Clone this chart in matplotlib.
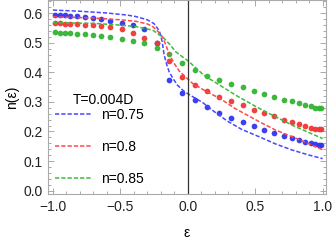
import numpy as np
import matplotlib.pyplot as plt
from matplotlib.ticker import MultipleLocator

plt.rcParams['font.family'] = ['Liberation Sans', 'DejaVu Sans']
plt.rcParams['font.size'] = 10

# dot positions (epsilon)
eps = [-0.987, -0.950, -0.913, -0.870, -0.821, -0.764, -0.705, -0.641, -0.574, -0.490,
       -0.409, -0.322, -0.228, -0.141, -0.044, 0.050, 0.142, 0.228, 0.317, 0.407,
       0.489, 0.567, 0.641, 0.710, 0.770, 0.826, 0.872, 0.911, 0.944, 0.970, 0.989]

dots_075 = [0.595, 0.594, 0.593, 0.592, 0.590, 0.588, 0.584, 0.581, 0.574, 0.568,
            0.560, 0.548, 0.500, 0.374, 0.330, 0.306, 0.282, 0.262, 0.247, 0.232,
            0.218, 0.206, 0.195, 0.185, 0.177, 0.170, 0.165, 0.161, 0.157, 0.155, 0.153]
dots_080 = [0.566, 0.566, 0.565, 0.564, 0.564, 0.562, 0.560, 0.557, 0.553, 0.546,
            0.533, 0.518, 0.500, 0.437, 0.384, 0.358, 0.337, 0.317, 0.302, 0.288,
            0.274, 0.262, 0.251, 0.240, 0.231, 0.224, 0.218, 0.213, 0.210, 0.208, 0.207]
dots_085 = [0.535, 0.534, 0.533, 0.532, 0.531, 0.530, 0.527, 0.524, 0.519, 0.513,
            0.507, 0.500, 0.484, 0.463, 0.432, 0.409, 0.389, 0.374, 0.360, 0.349,
            0.338, 0.327, 0.317, 0.308, 0.302, 0.295, 0.289, 0.285, 0.281, 0.279, 0.278]

# dashed curves, sampled by eye
line_x_075 = [-1.0, -0.8, -0.6, -0.45, -0.385, -0.3, -0.25, -0.21, -0.19, -0.175, -0.155,
              -0.138, -0.11, -0.077, -0.03, 0.01, 0.11, 0.2, 0.294, 0.4, 0.53, 0.65, 0.775, 0.9, 1.0]
line_y_075 = [0.611, 0.607, 0.601, 0.594, 0.589, 0.578, 0.565, 0.540, 0.505, 0.459, 0.425,
              0.402, 0.380, 0.357, 0.337, 0.325, 0.298, 0.266, 0.235, 0.207, 0.182, 0.158, 0.137, 0.120, 0.108]
line_x_080 = [-1.0, -0.7, -0.5, -0.385, -0.3, -0.26, -0.22, -0.187, -0.16, -0.138, -0.1,
              -0.064, 0.035, 0.12, 0.244, 0.35, 0.53, 0.65, 0.775, 0.9, 1.0]
line_y_080 = [0.588, 0.584, 0.578, 0.573, 0.564, 0.555, 0.538, 0.520, 0.490, 0.462, 0.430,
              0.405, 0.363, 0.340, 0.310, 0.278, 0.233, 0.205, 0.182, 0.158, 0.138]
line_x_085 = [-1.0, -0.7, -0.5, -0.385, -0.26, -0.175, -0.13, -0.09, 0.01, 0.12, 0.355,
              0.53, 0.775, 1.0]
line_y_085 = [0.568, 0.566, 0.560, 0.555, 0.543, 0.515, 0.493, 0.470, 0.436, 0.390, 0.323,
              0.278, 0.221, 0.176]

labels = ['n=0.75', 'n=0.8', 'n=0.85']
dot_colors = ['#2f35f2', '#f23535', '#33b333']
line_colors = ['#4848ff', '#ff4848', '#3cbc3c']

fig = plt.figure(figsize=(3.32, 2.43), dpi=100)
ax = fig.add_axes([0.145, 0.2, 0.837, 0.8])

for d, c in zip([dots_075, dots_080, dots_085], dot_colors):
    ax.plot(eps, d, 'o', ms=4.1, mec='none', color=c, alpha=0.95)

for lx, ly, c, lab in zip([line_x_075, line_x_080, line_x_085],
                          [line_y_075, line_y_080, line_y_085], line_colors, labels):
    ax.plot(lx, ly, color=c, lw=1.1, ls=(0, (2.8, 1.3)), label=lab)

ax.axvline(0, color='#333333', lw=0.9)

ax.set_xlim(-1.035, 1.025)
ax.set_ylim(-0.013, 0.645)
ax.xaxis.set_major_locator(MultipleLocator(0.5))
ax.xaxis.set_minor_locator(MultipleLocator(0.1))
ax.yaxis.set_major_locator(MultipleLocator(0.1))
ax.yaxis.set_minor_locator(MultipleLocator(0.02))
ax.tick_params(which='both', direction='in', top=True, right=True, color='#aaaaaa',
               labelcolor='#222222', width=0.7)
ax.tick_params(which='major', length=4, labelsize=10, pad=4)
ax.tick_params(which='minor', length=2)
for s in ax.spines.values():
    s.set_color('#aaaaaa')
    s.set_linewidth(0.8)

ax.set_xlabel('ε', labelpad=9)
ax.set_ylabel('n(ε)', labelpad=3)

ax.text(0.2, 0.485, 'T=0.004D', transform=ax.transAxes, ha='center', va='center')
ax.legend(loc='upper left', bbox_to_anchor=(0.025, 0.445), frameon=False,
          handlelength=2.6, handletextpad=0.7, labelspacing=1.3,
          borderpad=0, borderaxespad=0)

fig.savefig('out.png', dpi=100)
